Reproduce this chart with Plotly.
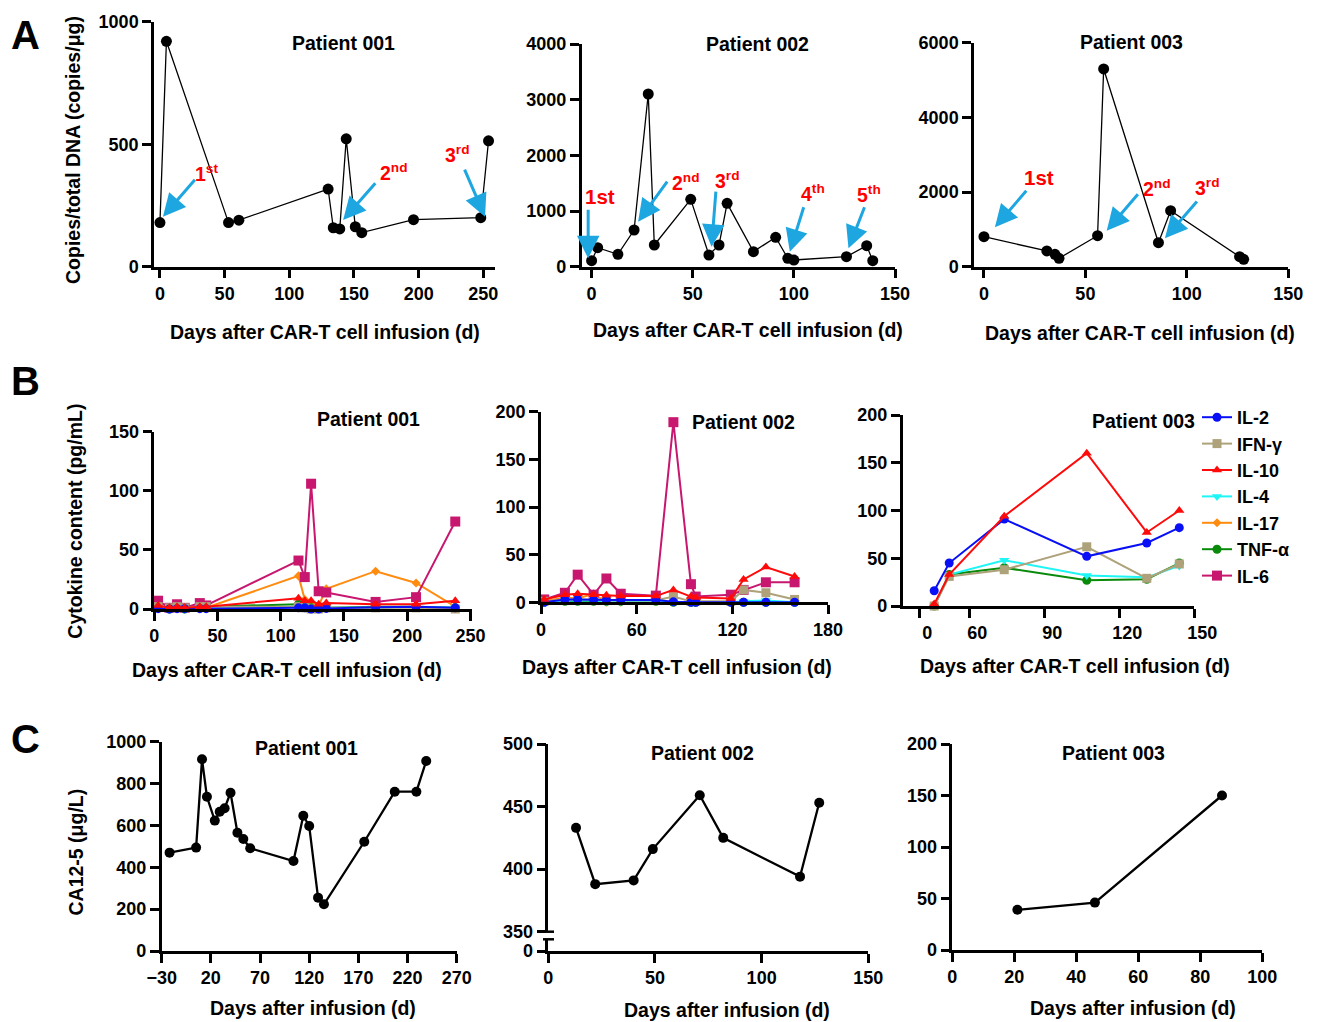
import plotly.graph_objects as go

W, H = 1318, 1022
FONT = "Liberation Sans, Arial, sans-serif"
CYAN = "#1DA6E0"
RED = "#FF0000"

# ---------------- Panel A : CAR-T copies ----------------
a1_days = [0, 5, 53, 61, 130, 134, 139, 144, 151, 156, 196, 248, 254]
a1_vals = [180, 920, 180, 190, 317, 159, 154, 522, 163, 139, 192, 200, 514]
a2_days = [0, 3, 13, 21, 28, 31, 49, 58, 63, 67, 80, 91, 97, 100, 126, 136, 139]
a2_vals = [108, 341, 222, 659, 3102, 390, 1210, 210, 390, 1138, 270, 528, 150, 120, 180, 377, 108]
a3_days = [0, 31, 35, 37, 56, 59, 86, 92, 126, 128]
a3_vals = [804, 421, 332, 225, 830, 5296, 643, 1500, 268, 198]

# infusion arrows: (head_day, head_val, tail_day, tail_val, label, label_day, label_val)
a1_arrows = [(2.3, 204, 28, 361, "1<sup>st</sup>", 36, 381),
             (141.6, 191, 167.5, 347, "2<sup>nd</sup>", 181, 388),
             (251.3, 204, 235, 402, "3<sup>rd</sup>", 230, 460)]
a2_arrows = [(-1.7, 151, -1.7, 1049, "1st", 3.9, 1257),
             (23, 808, 37.9, 1557, "2<sup>nd</sup>", 46.7, 1527),
             (59.3, 359, 61.5, 1377, "3<sup>rd</sup>", 67.2, 1557),
             (98, 270, 105.1, 1096, "4<sup>th</sup>", 109.6, 1318),
             (127, 330, 135.2, 1096, "5<sup>th</sup>", 137, 1306)]
a3_arrows = [(5.4, 1055, 21.5, 2073, "1st", 27, 2394),
             (60.5, 964, 76.5, 1982, "2<sup>nd</sup>", 85.4, 2100),
             (89.2, 760, 105.6, 1786, "3<sup>rd</sup>", 110.2, 2143)]

# ---------------- Panel B : cytokines ----------------
cytokines = ["IL-2", "IFN-γ", "IL-10", "IL-4", "IL-17", "TNF-α", "IL-6"]
b1_days = [3, 12, 18, 24, 36, 41, 114, 119, 124, 130, 136, 175, 207, 238]
b1 = {
    "IL-2":  [0.3, 0, 0.3, 0.3, 0.3, 0.3, 1, 1, 0, 0, 0.5, 1.5, 2, 1],
    "IFN-γ": [2, 1, 2, 1, 2, 2, 2, 1, 0, 0, 1, 1, 1, 0],
    "IL-10": [3, 1, 2, 1, 2, 2, 9, 7, 7, 4, 5, 4, 4, 7],
    "IL-4":  [1, 0, 1, 0, 1, 1, 2, 2, 1, 0, 1, 1, 2, 1],
    "IL-17": [1, 0, 1, 0, 1, 1, 28, 8, 5, 3, 17, 32, 22, 2],
    "TNF-α": [2, 0, 1, 0, 1, 2, 4, 3, 1, 1, 1, 2, 2, 1],
    "IL-6":  [7, 1, 4, 1, 5, 3, 41, 27, 106, 15, 14, 6, 10, 74],
}
b2_days = [2, 15, 23, 33, 41, 50, 72, 83, 94, 97, 119, 127, 141, 159]
b2 = {
    "IL-2":  [0, 3, 3, 2.5, 2.5, 2.5, 2.5, 0.5, 0, 0, 0, 0, 0, 0],
    "IFN-γ": [1, 3, 3, 3, 2, 2, 2, 6, 1, 1, 1, 13, 10, 3],
    "IL-10": [3, 8, 9, 8, 7.5, 6.5, 6.5, 13, 6, 5, 4, 24, 37, 27],
    "IL-4":  [0, 2, 2, 2, 1, 1, 1, 0, 0, 0, 0, 1, 2, 0],
    "IL-17": [1, 5, 4, 9, 0, 0, 1, 0, 0, 0, 0, 0, 0, 0],
    "TNF-α": [0, 1, 1, 1, 1, 1, 1, 0, 0, 0, 0, 0, 0, 0],
    "IL-6":  [3, 10, 29, 8, 25, 9, 7, 189, 19, 6, 8, 13, 21, 21],
}
b3_days = [46, 52, 74, 107, 131, 144]
b3 = {
    "IL-2":  [16, 45, 91, 52, 66, 82],
    "IFN-γ": [0, 31, 38, 62, 29, 44],
    "IL-10": [2, 33, 94, 160, 77, 100],
    "IL-4":  [0, 33, 48, 32, 30, 42],
    "TNF-α": [0, 33, 40, 27, 28, 45],
}
b3_ticks = [40, 60, 90, 120, 150]
b3_ticktext = ["0", "60", "90", "120", "150"]

# ---------------- Panel C : CA12-5 ----------------
c1_days = [-22, 5, 11, 16, 24, 29, 34, 40, 47, 53, 60, 104, 114, 120, 129, 135, 176, 207, 229, 239]
c1_vals = [470, 494, 916, 737, 623, 665, 682, 756, 565, 535, 491, 430, 646, 597, 255, 223, 522, 761, 761, 908]
c2_days = [13, 22, 40, 49, 71, 82, 118, 127]
c2_vals = [433, 388, 391, 416, 459, 425, 394, 453]
c3_days = [21, 46, 87]
c3_vals = [39, 46, 150]

# ---------------- styles ----------------
cyto_style = {
    "IL-2":  dict(color="#0A10F5", symbol="circle", size=9, rank=1),
    "IFN-γ": dict(color="#ADA27A", symbol="square", size=9, rank=2),
    "IL-10": dict(color="#FF0A0A", symbol="triangle-up", size=9, rank=3),
    "IL-4":  dict(color="#1EF5F5", symbol="triangle-down", size=9, rank=4),
    "IL-17": dict(color="#FF8C10", symbol="diamond", size=7, rank=5),
    "TNF-α": dict(color="#0A8A0A", symbol="circle", size=9, rank=6),
    "IL-6":  dict(color="#C8176F", symbol="square", size=10, rank=7),
}
draw_order = ["IL-17", "IL-6", "TNF-α", "IL-4", "IFN-γ", "IL-2", "IL-10"]


def fx(px):
    return px / W


def fy(py):
    return 1 - py / H


tickfont = dict(family=FONT, size=18, color="black", weight="bold")
axis_common = dict(showline=True, linecolor="black", linewidth=2.5, ticks="outside",
                   ticklen=9, tickwidth=2.5, tickcolor="black", showgrid=False,
                   zeroline=False, tickfont=tickfont, fixedrange=True, automargin=False)

fig = go.Figure()

# axis specs: id -> (x px domain, y px domain (top,bottom), xrange, yrange, xticks, yticks)
specs = {
    1: ((154, 495), (21.7, 266.7), [-4.6, 259], [0, 1000], [0, 50, 100, 150, 200, 250], [0, 500, 1000]),
    2: ((581.7, 895), (44, 266.7), [-4.9, 150], [0, 4000], [0, 50, 100, 150], [0, 1000, 2000, 3000, 4000]),
    3: ((974, 1288.3), (42.7, 266.7), [-4.9, 150], [0, 6000], [0, 50, 100, 150], [0, 2000, 4000, 6000]),
    4: ((154.3, 471.7), (431.7, 609), [0, 251], [0, 150], [0, 50, 100, 150, 200, 250], [0, 50, 100, 150]),
    5: ((541, 828.1), (411.7, 602.3), [0, 180], [0, 200], [0, 60, 120, 180], [0, 50, 100, 150, 200]),
    6: ((902.7, 1194.3), (415, 606), [33.4, 150], [0, 200], b3_ticks, [0, 50, 100, 150, 200]),
    7: ((161.7, 456.7), (741.7, 951), [-30, 270], [0, 1000], [-30, 20, 70, 120, 170, 220, 270], [0, 200, 400, 600, 800, 1000]),
    8: ((548.3, 868.3), (744, 931.7), [0, 150], [350, 500], [0, 50, 100, 150], [350, 400, 450, 500]),
    9: ((952.3, 1262.3), (744, 950), [0, 100], [0, 200], [0, 20, 40, 60, 80, 100], [0, 50, 100, 150, 200]),
}

layout_axes = {}
for i, (xd, yd, xr, yr, xt, yt) in specs.items():
    xname = "xaxis" if i == 1 else f"xaxis{i}"
    yname = "yaxis" if i == 1 else f"yaxis{i}"
    xa = dict(axis_common, domain=[fx(xd[0]), fx(xd[1])], range=xr, tickvals=xt,
              anchor="y" if i == 1 else f"y{i}")
    ya = dict(axis_common, domain=[fy(yd[1]), fy(yd[0])], range=yr, tickvals=yt,
              anchor="x" if i == 1 else f"x{i}")
    if i == 6:
        xa["ticktext"] = b3_ticktext
        xa["ticklabelshift"] = 8
    if i == 8:
        xa["anchor"] = "y10"
    layout_axes[xname] = xa
    layout_axes[yname] = ya
# lower segment of broken y-axis in C2
layout_axes["yaxis10"] = dict(axis_common, domain=[fy(951), fy(939.3)], range=[0, 9.4],
                              tickvals=[0], anchor="x8")


def ref(i):
    return ("x", "y") if i == 1 else (f"x{i}", f"y{i}")


def black_series(i, xs, ys, lw, ms):
    xr_, yr_ = ref(i)
    fig.add_trace(go.Scatter(x=xs, y=ys, mode="lines+markers", xaxis=xr_, yaxis=yr_,
                             line=dict(color="black", width=lw),
                             marker=dict(color="black", size=ms), showlegend=False,
                             cliponaxis=False))


black_series(1, a1_days, a1_vals, 1.3, 11)
black_series(2, a2_days, a2_vals, 1.3, 11)
black_series(3, a3_days, a3_vals, 1.3, 11)
black_series(7, c1_days, c1_vals, 2.3, 10)
black_series(8, c2_days, c2_vals, 2.3, 10)
black_series(9, c3_days, c3_vals, 2.3, 10)
# empty trace so that the lower segment of the broken C2 axis is registered
fig.add_trace(go.Scatter(x=[], y=[], xaxis="x8", yaxis="y10", showlegend=False))

for i, days, data in [(4, b1_days, b1), (5, b2_days, b2), (6, b3_days, b3)]:
    xr_, yr_ = ref(i)
    for name in draw_order:
        if name not in data:
            continue
        st = cyto_style[name]
        fig.add_trace(go.Scatter(
            x=days, y=data[name], mode="lines+markers", name=name, xaxis=xr_, yaxis=yr_,
            line=dict(color=st["color"], width=2),
            marker=dict(color=st["color"], symbol=st["symbol"], size=st["size"]),
            showlegend=(i == 4), legendrank=st["rank"], cliponaxis=False))

annotations = []


def text_px(text, px, py, size=19.5, angle=0, color="black"):
    annotations.append(dict(text=text, x=fx(px), y=fy(py), xref="paper", yref="paper",
                            showarrow=False, xanchor="center", yanchor="middle",
                            textangle=angle,
                            font=dict(family=FONT, size=size, color=color, weight="bold")))


# panel letters
text_px("A", 25, 35, size=40)
text_px("B", 25, 381, size=40)
text_px("C", 25, 739, size=40)

# panel titles
for t, px, py in [("Patient 001", 343.3, 42.7), ("Patient 002", 757, 44), ("Patient 003", 1131.7, 41.7),
                  ("Patient 001", 368.3, 419.3), ("Patient 002", 743.3, 421.7), ("Patient 003", 1143.3, 420.7),
                  ("Patient 001", 306.7, 748.3), ("Patient 002", 702.3, 753.3), ("Patient 003", 1113.3, 753.3)]:
    text_px(t, px, py)

# axis titles
xt_cart = "Days after CAR-T cell infusion (d)"
for px, py in [(325, 331.7), (748.3, 330), (1140, 332.7), (286.7, 670), (676.7, 666.7), (1075, 666)]:
    text_px(xt_cart, px, py)
for px, py in [(313.3, 1008.3), (726.7, 1010), (1133.3, 1008.3)]:
    text_px("Days after infusion (d)", px, py)
text_px("Copies/total DNA (copies/μg)", 73, 150, angle=-90)
text_px("Cytokine content (pg/mL)", 75, 521.7, angle=-90)
text_px("CA12-5 (μg/L)", 75, 852.5, angle=-90)

# infusion arrows
for i, arrows in [(1, a1_arrows), (2, a2_arrows), (3, a3_arrows)]:
    xr_, yr_ = ref(i)
    for hx, hy, tx, ty, lab, lx, ly in arrows:
        annotations.append(dict(x=hx, y=hy, ax=tx, ay=ty, xref=xr_, yref=yr_, axref=xr_, ayref=yr_,
                                text="", showarrow=True, arrowhead=2, arrowsize=1.5,
                                arrowwidth=3, arrowcolor=CYAN, standoff=0))
        size = 20.5 if "<sup>" not in lab else 19.5
        annotations.append(dict(x=lx, y=ly, xref=xr_, yref=yr_, text=lab, showarrow=False,
                                xanchor="center", yanchor="middle",
                                font=dict(family=FONT, size=size, color=RED, weight="bold")))

# axis break marks (C2 y-axis)
shapes = []
for py in [931.7, 939.3]:
    shapes.append(dict(type="line", xref="paper", yref="paper", x0=fx(543), x1=fx(554),
                       y0=fy(py), y1=fy(py), line=dict(color="black", width=2.5)))

fig.update_layout(
    width=W, height=H, margin=dict(l=0, r=0, t=0, b=0, pad=0, autoexpand=False),
    paper_bgcolor="white", plot_bgcolor="white",
    font=dict(family=FONT, color="black"),
    annotations=annotations, shapes=shapes,
    legend=dict(x=fx(1197), y=fy(399), xanchor="left", yanchor="top",
                bgcolor="rgba(0,0,0,0)", itemwidth=30,
                font=dict(family=FONT, size=18, color="black", weight="bold"),
                tracegroupgap=0),
    **layout_axes,
)

fig.write_html("out.html", config={"displayModeBar": False},
               post_script="document.body.style.margin='0px';document.body.style.padding='0px';")
